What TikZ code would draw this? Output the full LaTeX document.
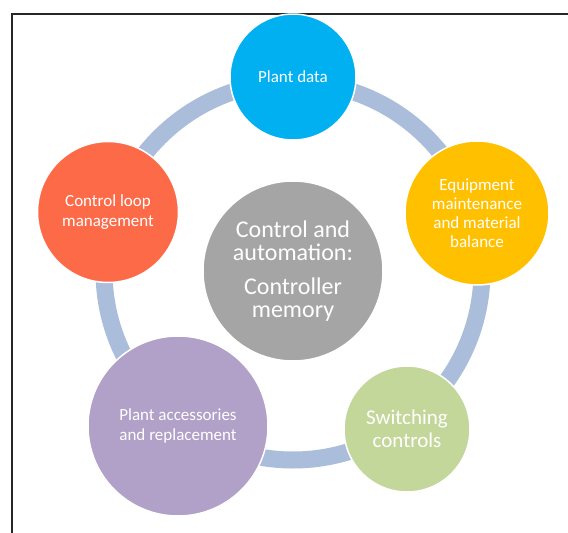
\documentclass[tikz,border=0pt]{standalone}
\usepackage{fontspec}
\setmainfont{Carlito}
\definecolor{ringc}{HTML}{AABDDB}
\definecolor{cblue}{HTML}{00B0F0}
\definecolor{cgold}{HTML}{FFC000}
\definecolor{cgreen}{HTML}{C4D79B}
\definecolor{cpurple}{HTML}{B1A0C7}
\definecolor{cred}{HTML}{FD6A48}
\definecolor{cgray}{HTML}{A5A5A5}
\begin{document}
\begin{tikzpicture}[x=1pt,y=-1pt,
  bub/.style={circle, draw=white, line width=1.5pt, inner sep=0pt, text=white, align=center},
  smalltxt/.style={font=\fontsize{17}{19.5}\selectfont},
  ringline/.style={draw=ringc, line width=17pt},
  framel/.style={draw=black!85, line width=2pt}
]
\useasboundingbox (0,0) rectangle (568,533);
\fill[white] (0,0) rectangle (568,533);
\clip (0,0) rectangle (568,533);
\coordinate (fb) at (11.5,545);
\coordinate (fc) at (11.5,13.5);
\coordinate (fr) at (580,13.5);
\draw[framel] (fb) -- (fc) -- (fr);
\coordinate (ctr) at (293,271);
\draw[ringline] (ctr) circle[radius=189pt];
\node[bub, fill=cblue, minimum size=126pt, smalltxt] (pd) at (293,77) {Plant data};
\node[bub, fill=cgold, minimum size=144pt, smalltxt, font=\fontsize{17}{19}\selectfont] (eq) at (477,213) {Equipment\\maintenance\\and material\\balance};
\node[bub, fill=cgreen, minimum size=126pt, font=\fontsize{21}{22.5}\selectfont] (sw) at (407,429) {Switching\\controls};
\node[bub, fill=cpurple, minimum size=180pt, smalltxt] (pa) at (178,426) {Plant accessories\\and replacement};
\node[bub, fill=cred, minimum size=141pt, smalltxt] (cl) at (108,212) {Control loop\\management};
\node[bub, fill=cgray, minimum size=180pt, font=\fontsize{24}{23}\selectfont] (cm) at (ctr) {Control and\\automation:\\[11pt]Controller\\memory};
\end{tikzpicture}
\end{document}
